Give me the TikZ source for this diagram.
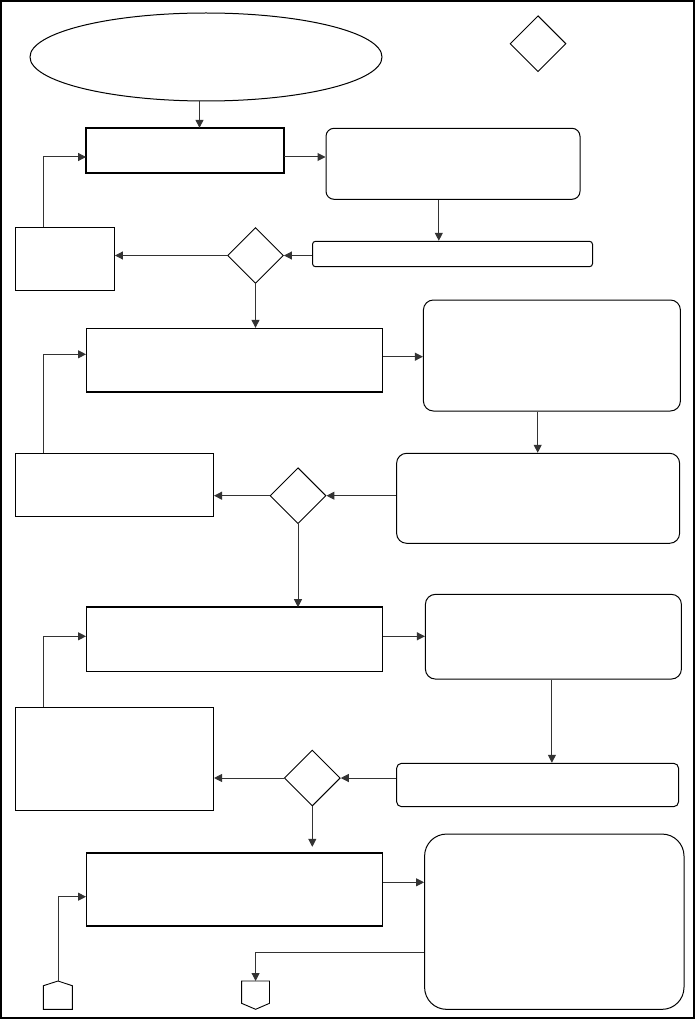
\documentclass[tikz,border=0pt]{standalone}
\usetikzlibrary{shapes.geometric,arrows.meta}
\begin{document}
\begin{tikzpicture}[x=1pt,y=-1pt,
  box/.style={draw=black,line width=0.9pt,rectangle,inner sep=0pt},
  rbox/.style={draw=black,line width=1pt,rectangle,inner sep=0pt,rounded corners=#1},
  rbox/.default=8pt,
  dec/.style={draw=black,line width=0.9pt,diamond,aspect=1,inner sep=0pt,minimum width=56pt,minimum height=56pt},
  arr/.style={draw=black!80,line width=1pt,-{Triangle[length=8pt,width=8pt]}},
  lin/.style={draw=black!80,line width=1pt},
  thickedge/.style={line width=2.2pt,draw=black}]
\useasboundingbox (0,0) rectangle (695,1019);
\draw[line width=2pt] (1,1) rectangle (694,1018);

% nodes
\node[draw=black,line width=1pt,ellipse,inner sep=0pt,minimum width=352pt,minimum height=88pt] (ell) at (206,57) {};
\node[dec] (dtop) at (538,43.7) {};

\node[box,minimum width=197pt,minimum height=44pt] (b1) at (185,150.3) {};
\node[rbox=8pt,minimum width=254pt,minimum height=71pt] (r1) at (453,163.8) {};
\node[rbox=3pt,minimum width=280pt,minimum height=25.4pt] (r1b) at (452.5,254) {};
\node[dec] (d1) at (255.5,255.5) {};
\node[box,minimum width=99pt,minimum height=62.6pt] (l1) at (65,259) {};

\node[box,minimum width=296pt,minimum height=63.4pt] (b2) at (234.5,360) {};
\node[rbox=10pt,minimum width=257pt,minimum height=111pt] (r2) at (551.9,355.5) {};
\node[rbox=10pt,minimum width=283pt,minimum height=90pt] (r3) at (538.1,498.3) {};
\node[dec] (d2) at (298,495.7) {};
\node[box,minimum width=198pt,minimum height=63.4pt] (l2) at (114.6,485) {};

\node[box,minimum width=296pt,minimum height=63.3pt] (b3) at (234.5,639.3) {};
\node[rbox=10pt,minimum width=256pt,minimum height=84.7pt] (r4) at (553.4,636.7) {};
\node[rbox=5pt,minimum width=282pt,minimum height=43.4pt] (r5) at (537.6,785) {};
\node[dec] (d3) at (312.3,778) {};
\node[box,minimum width=198pt,minimum height=103.3pt] (l3) at (114.6,758.6) {};

\node[box,minimum width=296pt,minimum height=72pt] (b4) at (234.5,889.3) {};
\node[rbox=22pt,minimum width=259.4pt,minimum height=175.3pt] (r6) at (554.3,921.7) {};

% thick edges
\draw[thickedge] (b1.north west) rectangle (b1.south east);
\draw[thickedge] (b2.south west) -- (b2.south east);
\draw[thickedge] (b3.north west) -- (b3.north east);
\draw[thickedge] (b4.north west) -- (b4.north east);
\draw[thickedge] (b4.south west) -- (b4.south east);

% off-page connectors
\coordinate (op1top) at (58,981);
\coordinate (op2top) at (255.6,981);
\draw[line width=0.9pt] (op1top) -- (72.3,985.7) -- (72.3,1009.3) -- (43.4,1009.3) -- (43.4,985.7) -- cycle;
\draw[line width=0.9pt] (241.6,981) -- (269.5,981) -- (269.5,1003.3) -- (255.6,1009.3) -- (241.6,1003.3) -- cycle;

% connectors
\draw[arr] ([xshift=-6.5pt]ell.south) -- ([xshift=-6.5pt]ell.south |- b1.north);
\draw[arr] ([yshift=-6.7pt]b1.east) -- ([yshift=-6.7pt]b1.east -| r1.west);
\draw[arr] ([xshift=-14.2pt]r1.south) -- ([xshift=-14.2pt]r1.south |- r1b.north);
\draw[arr] (r1b.west |- d1) -- (d1.east);
\draw[arr] (d1.west) -- (d1.west -| l1.east);
\draw[arr] ([xshift=28.4pt]l1.north west) |- ([yshift=-6.7pt]b1.west);
\draw[arr] (d1.south) -- (d1.south |- b2.north);

\draw[arr] ([yshift=3.3pt]b2.east) -- ([yshift=3.3pt]b2.east -| r2.west);
\draw[arr] ([xshift=-14.2pt]r2.south) -- ([xshift=-14.2pt]r2.south |- r3.north);
\draw[arr] (r3.west |- d2) -- (d2.east);
\draw[arr] (d2.west) -- (d2.west -| l2.east);
\draw[arr] ([xshift=28.4pt]l2.north west) |- ([yshift=5.7pt]b2.west);
\draw[arr] (d2.south) -- (d2.south |- b3.north);

\draw[arr] ([yshift=3pt]b3.east) -- ([yshift=3pt]b3.east -| r4.west);
\draw[arr] ([xshift=-1.5pt]r4.south) -- ([xshift=-1.5pt]r4.south |- r5.north);
\draw[arr] (r5.west |- d3) -- (d3.east);
\draw[arr] (d3.west) -- (d3.west -| l3.east);
\draw[arr] ([xshift=28.4pt]l3.north west) |- ([yshift=3pt]b3.west);
\draw[arr] (d3.south) -- ([yshift=6pt]d3.south |- b4.north);

\draw[arr] ([yshift=7pt]b4.east) -- ([yshift=7pt]b4.east -| r6.west);
\draw[arr] ([yshift=-31pt]r6.west) -| (op2top);
\draw[arr] (op1top) |- ([yshift=-7.4pt]b4.west);
\end{tikzpicture}
\end{document}
